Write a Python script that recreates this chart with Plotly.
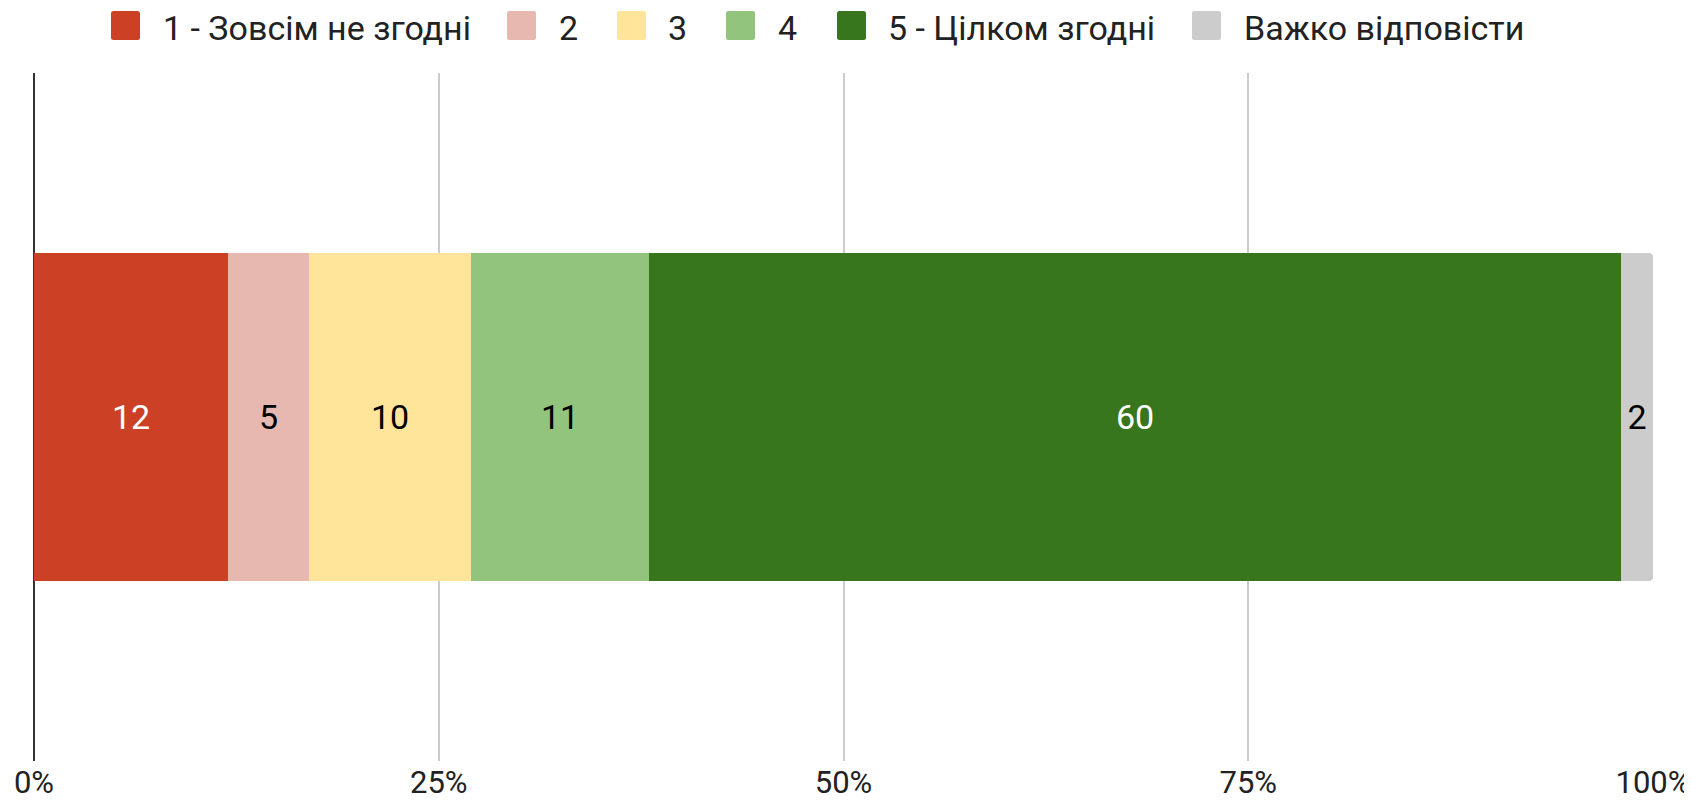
import plotly.graph_objects as go

categories = ["1 - Зовсім не згодні", "2", "3", "4", "5 - Цілком згодні", "Важко відповісти"]
values = [12, 5, 10, 11, 60, 2]
colors = ["#cc4125", "#e6b8af", "#ffe599", "#93c47d", "#38761d", "#cccccc"]
label_colors = ["#ffffff", "#000000", "#000000", "#000000", "#ffffff", "#000000"]
tick_vals = [0, 25, 50, 75, 100]
tick_text = ["0%", "25%", "50%", "75%", "100%"]

FONT = "Roboto"
# the page body adds an 8px margin, so the figure is 8px smaller than the window
OFF = 8
W, H = 1692 - OFF, 805 - OFF

plot_l, plot_r, plot_t, plot_b = 34 - OFF, 39, 73 - OFF, 44
pw = W - plot_l - plot_r
ph = H - plot_t - plot_b


def px_to_paper_x(px):
    return (px - OFF - plot_l) / pw


def px_to_paper_y(py):
    return (H - plot_b - (py - OFF)) / ph


fig = go.Figure()
for name, v, c, lc in zip(categories, values, colors, label_colors):
    fig.add_trace(go.Bar(
        y=["row"], x=[v], name=name, orientation="h",
        marker=dict(color=c, line=dict(width=0)),
        width=0.478,
        text=[str(v)], textposition="inside", insidetextanchor="middle",
        textangle=0, constraintext="none",
        insidetextfont=dict(family=FONT, size=34, color=lc),
        hoverinfo="name+x", showlegend=False,
    ))

# Legend drawn as rounded squares + text at the top (window pixel positions)
legend_square_x = [111, 507, 617, 726, 837, 1192]
legend_text_x = [162, 558, 667, 777, 887, 1243]
sq_size = 29
sq_top = 11
text_mid = 28
rad = 2.5


def X(p):
    return (p - plot_l) / pw


def Y(p):
    return (H - plot_b - p) / ph


shapes = []
annotations = []
for name, c, sx, tx in zip(categories, colors, legend_square_x, legend_text_x):
    x0, x1 = sx - OFF, sx - OFF + sq_size
    y0, y1 = sq_top - OFF, sq_top - OFF + sq_size
    r = rad
    path = (
        f"M {X(x0 + r)},{Y(y0)} L {X(x1 - r)},{Y(y0)} "
        f"Q {X(x1)},{Y(y0)} {X(x1)},{Y(y0 + r)} L {X(x1)},{Y(y1 - r)} "
        f"Q {X(x1)},{Y(y1)} {X(x1 - r)},{Y(y1)} L {X(x0 + r)},{Y(y1)} "
        f"Q {X(x0)},{Y(y1)} {X(x0)},{Y(y1 - r)} L {X(x0)},{Y(y0 + r)} "
        f"Q {X(x0)},{Y(y0)} {X(x0 + r)},{Y(y0)} Z"
    )
    shapes.append(dict(
        type="path", xref="paper", yref="paper", path=path,
        line=dict(width=0), fillcolor=c,
    ))
    annotations.append(dict(
        text=name, showarrow=False, xref="paper", yref="paper",
        x=px_to_paper_x(tx), y=px_to_paper_y(text_mid),
        xanchor="left", yanchor="middle", borderpad=0,
        font=dict(family=FONT, size=34, color="#222222"),
    ))

fig.update_layout(
    barmode="stack",
    barcornerradius=4,
    width=W, height=H,
    margin=dict(l=plot_l, r=plot_r, t=plot_t, b=plot_b, autoexpand=False),
    paper_bgcolor="white", plot_bgcolor="white",
    font=dict(family=FONT, size=31, color="#222222"),
    bargap=0,
    showlegend=False,
    shapes=shapes,
    annotations=annotations,
    xaxis=dict(
        range=[0, 100], tickvals=tick_vals, ticktext=tick_text,
        showgrid=True, gridcolor="#cccccc", gridwidth=1.5,
        zeroline=True, zerolinecolor="#333333", zerolinewidth=1.5,
        showline=False, automargin=False,
        ticks="",
        tickfont=dict(family=FONT, size=31, color="#222222"),
        fixedrange=True,
    ),
    yaxis=dict(
        range=[-0.5, 0.5], showticklabels=False, showgrid=False,
        zeroline=False, fixedrange=True, automargin=False,
    ),
)

fig.write_html("out.html")
